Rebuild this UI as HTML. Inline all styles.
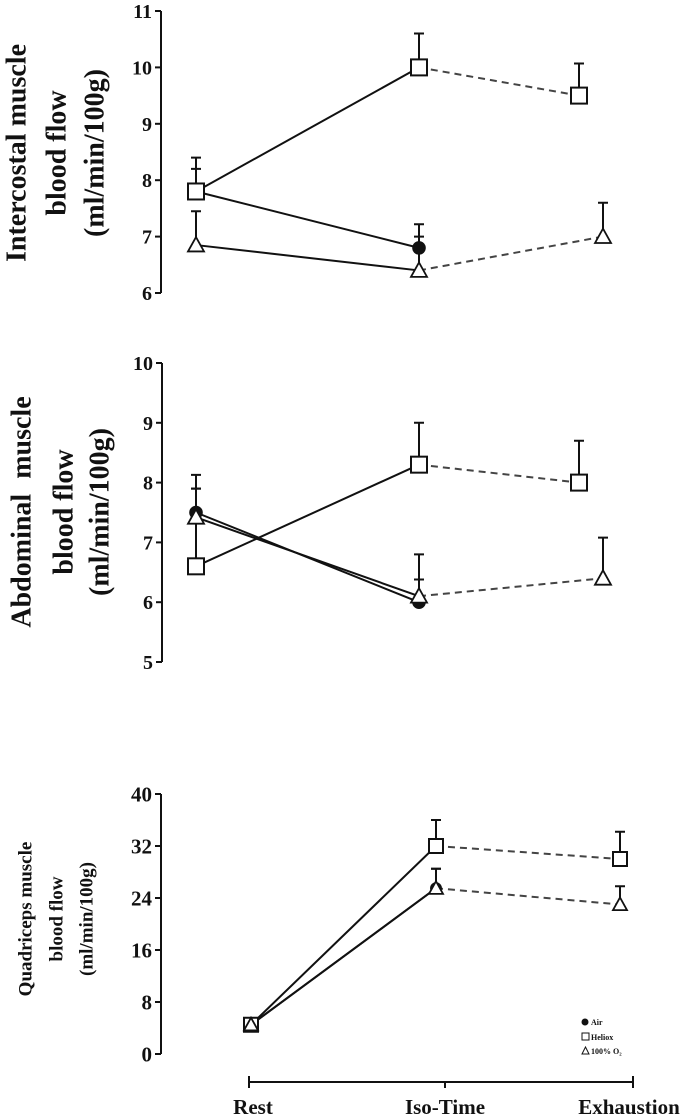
<!DOCTYPE html>
<html><head><meta charset="utf-8"><style>
html,body{margin:0;padding:0;background:#fff;}
svg{display:block;}
text{font-family:"Liberation Serif",serif;font-weight:bold;fill:#111;}
</style></head><body>
<svg id="chart" width="683" height="1120" viewBox="0 0 683 1120" xmlns="http://www.w3.org/2000/svg">
<g id="p1"></g>
<g id="p2"></g>
<g id="p3"></g>
<text x="17" y="153" font-size="28" text-anchor="middle" transform="rotate(-90 17 153)" dominant-baseline="central">Intercostal muscle</text>
<text x="57" y="153" font-size="28" text-anchor="middle" transform="rotate(-90 57 153)" dominant-baseline="central">blood flow</text>
<text x="95" y="153" font-size="28" text-anchor="middle" transform="rotate(-90 95 153)" dominant-baseline="central">(ml/min/100g)</text>
<text x="22" y="512" font-size="28" text-anchor="middle" transform="rotate(-90 22 512)" dominant-baseline="central" word-spacing="8">Abdominal  muscle</text>
<text x="64" y="512" font-size="28" text-anchor="middle" transform="rotate(-90 64 512)" dominant-baseline="central">blood flow</text>
<text x="100" y="512" font-size="28" text-anchor="middle" transform="rotate(-90 100 512)" dominant-baseline="central">(ml/min/100g)</text>
<text x="26" y="919" font-size="19" text-anchor="middle" transform="rotate(-90 26 919)" dominant-baseline="central">Quadriceps muscle</text>
<text x="57" y="919" font-size="19" text-anchor="middle" transform="rotate(-90 57 919)" dominant-baseline="central">blood flow</text>
<text x="87" y="919" font-size="19" text-anchor="middle" transform="rotate(-90 87 919)" dominant-baseline="central">(ml/min/100g)</text>
<line x1="249" y1="1082" x2="633" y2="1082" stroke="#111" stroke-width="2"/>
<line x1="249" y1="1076" x2="249" y2="1088" stroke="#111" stroke-width="2"/>
<line x1="445" y1="1082" x2="445" y2="1088" stroke="#111" stroke-width="2"/>
<line x1="633" y1="1076" x2="633" y2="1088" stroke="#111" stroke-width="2"/>
<text x="253" y="1114" font-size="21" text-anchor="middle">Rest</text>
<text x="445" y="1114" font-size="21" text-anchor="middle">Iso-Time</text>
<text x="629" y="1114" font-size="21" text-anchor="middle">Exhaustion</text>
<g>
<circle cx="585" cy="1022" r="3.5" fill="#111"/>
<text x="591" y="1025" font-size="8">Air</text>
<rect x="582" y="1033" width="7" height="7" fill="#fff" stroke="#111"/>
<text x="591" y="1040" font-size="8">Heliox</text>
<path d="M582 1054 L585.5 1047 L589 1054 Z" fill="#fff" stroke="#111"/>
<text x="591" y="1054" font-size="8">100% O₂</text>
</g>
</svg>
<script>
const NS="http://www.w3.org/2000/svg";
// Panel 1: intercostal
const p1Ticks=[6,7,8,9,10,11];
const p1Air=[7.8,6.8,null];
const p1AirErr=[8.2,7.22,null];
const p1Heliox=[7.8,10.0,9.5];
const p1HelioxErr=[8.4,10.6,10.07];
const p1O2=[6.85,6.4,7.0];
const p1O2Err=[7.45,7.0,7.6];
// Panel 2: abdominal
const p2Ticks=[5,6,7,8,9,10];
const p2Air=[7.5,6.0,null];
const p2AirErr=[8.13,6.38,null];
const p2Heliox=[6.6,8.3,8.0];
const p2HelioxErr=[7.9,9.0,8.7];
const p2O2=[7.42,6.1,6.4];
const p2O2Err=[7.9,6.8,7.08];
// Panel 3: quadriceps
const p3Ticks=[0,8,16,24,32,40];
const p3Air=[4.5,25.5,null];
const p3AirErr=[5.5,28.5,null];
const p3Heliox=[4.5,32,30];
const p3HelioxErr=[5.5,36,34.2];
const p3O2=[4.5,25.5,23];
const p3O2Err=[5.5,28.5,25.8];

function mk(parent,tag,attrs){const e=document.createElementNS(NS,tag);for(const k in attrs)e.setAttribute(k,attrs[k]);parent.appendChild(e);return e;}

function panel(id,ticks,cfg,series){
  const g=document.getElementById(id);
  const min=ticks[0],max=ticks[ticks.length-1];
  const y=v=>cfg.y0+(v-min)/(max-min)*(cfg.y1-cfg.y0);
  const ax=mk(g,'line',{x1:cfg.ax,x2:cfg.ax,y1:y(min),y2:y(max),stroke:'#111','stroke-width':2});
  
  
  ticks.forEach(t=>{
    const l=mk(g,'line',{x1:cfg.ax-6,x2:cfg.ax,y1:y(t),y2:y(t),stroke:'#111','stroke-width':2});
    
    
    const tx=mk(g,'text',{x:cfg.ax-9,y:y(t)+cfg.fs*0.35,'font-size':cfg.fs,'text-anchor':'end'});
    tx.textContent=t;
    
    
  });
  series.forEach(s=>{
    const xs=s.xs;
    s.v.forEach((v,i)=>{
      if(v==null)return;
      const e=s.err[i];
      const b=mk(g,'path',{d:`M${xs[i]} ${y(v)} V${y(e)} M${xs[i]-5} ${y(e)} H${xs[i]+5}`,stroke:'#111','stroke-width':2,fill:'none'});
      
      
    });
    for(let i=0;i<2;i++){
      if(s.v[i]==null||s.v[i+1]==null)continue;
      const ln=mk(g,'line',{x1:xs[i],y1:y(s.v[i]),x2:xs[i+1],y2:y(s.v[i+1]),stroke:i==0?'#111':'#444','stroke-width':2,'stroke-dasharray':i==0?'none':'7 5'});
      
      
    }
  });
  series.forEach(s=>{
    s.v.forEach((v,i)=>{
      if(v==null)return;
      const cx=s.xs[i],cy=y(v),r=cfg.m;let m;
      if(s.shape==='circle')m=mk(g,'circle',{cx:cx,cy:cy,r:r*0.85,fill:'#111'});
      else if(s.shape==='square')m=mk(g,'rect',{x:cx-r,y:cy-r,width:2*r,height:2*r,fill:'#fff',stroke:'#111','stroke-width':2});
      else m=mk(g,'path',{d:`M${cx-r} ${cy+r*0.8} L${cx} ${cy-r} L${cx+r} ${cy+r*0.8} Z`,fill:'#fff',stroke:'#111','stroke-width':1.8});
      
      
    });
  });
}
const X12=[196,419,579],X12t=[196,419,603],X3=[251,436,620];
panel('p1',p1Ticks,{ax:161,y0:293,y1:11,fs:20,m:8},[
  {name:'air',v:p1Air,err:p1AirErr,xs:X12,shape:'circle'},
  {name:'heliox',v:p1Heliox,err:p1HelioxErr,xs:X12,shape:'square'},
  {name:'o2',v:p1O2,err:p1O2Err,xs:X12t,shape:'tri'}]);
panel('p2',p2Ticks,{ax:162,y0:662,y1:363,fs:20,m:8},[
  {name:'air',v:p2Air,err:p2AirErr,xs:X12,shape:'circle'},
  {name:'heliox',v:p2Heliox,err:p2HelioxErr,xs:X12,shape:'square'},
  {name:'o2',v:p2O2,err:p2O2Err,xs:X12t,shape:'tri'}]);
panel('p3',p3Ticks,{ax:161,y0:1054,y1:794,fs:21,m:7},[
  {name:'air',v:p3Air,err:p3AirErr,xs:X3,shape:'circle'},
  {name:'heliox',v:p3Heliox,err:p3HelioxErr,xs:X3,shape:'square'},
  {name:'o2',v:p3O2,err:p3O2Err,xs:X3,shape:'tri'}]);
</script>
</body></html>
